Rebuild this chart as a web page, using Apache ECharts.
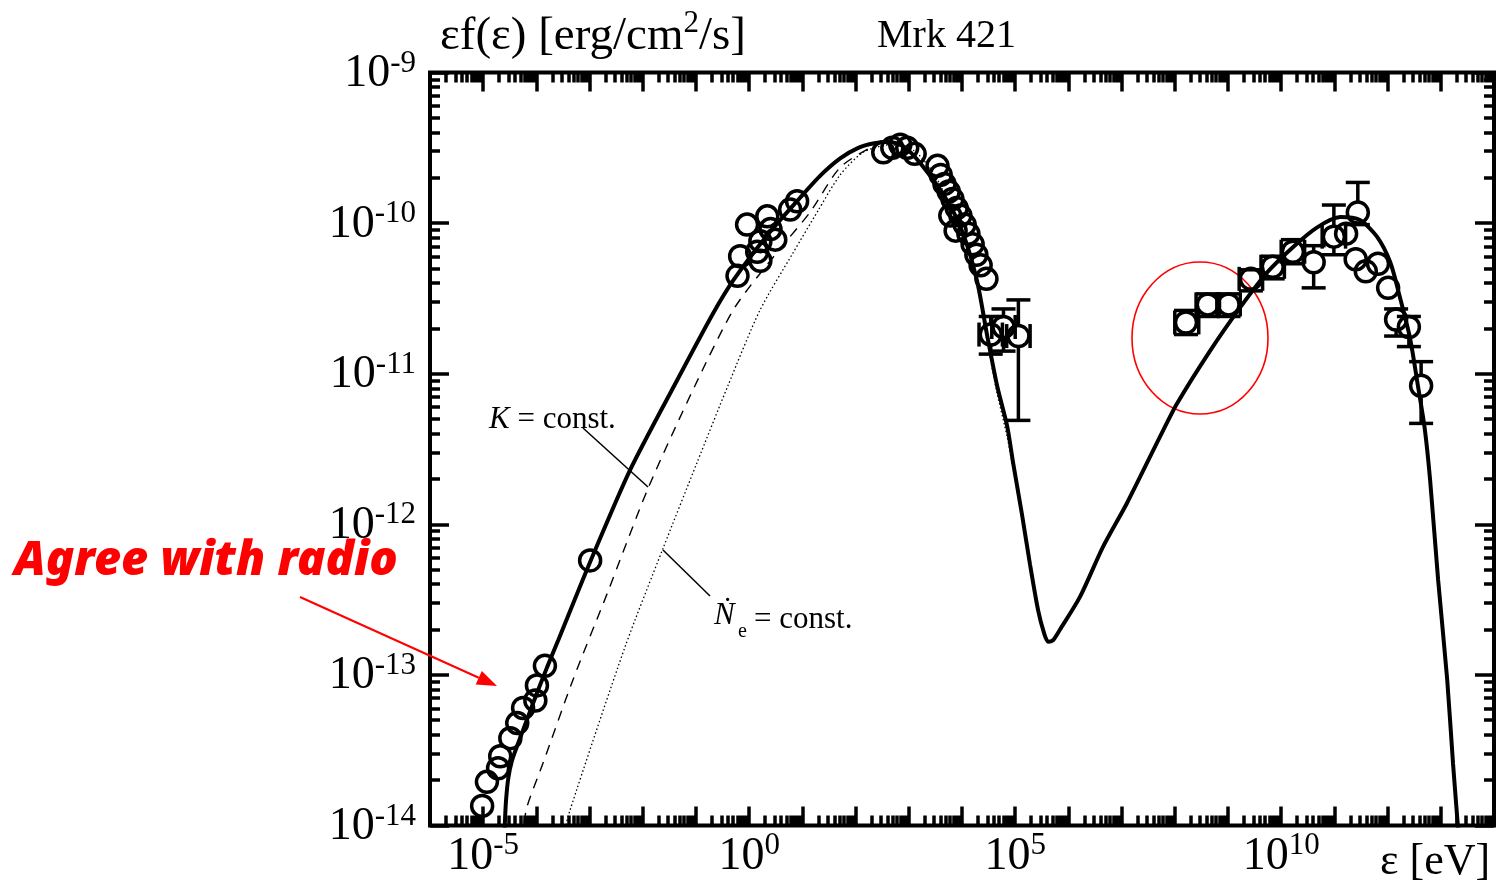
<!DOCTYPE html>
<html><head><meta charset="utf-8">
<script src="https://cdn.jsdelivr.net/npm/echarts@6/dist/echarts.min.js"></script>
<style>html,body{margin:0;padding:0;background:#fff}#c{width:1496px;height:885px}</style>
</head><body><div id="c"></div>
<script>
// All values are log10: x = log10(ε / eV), y = log10(εf(ε) / erg cm^-2 s^-1)
const xRange = [-6, 14];
const yRange = [-14, -9];
const xTickLabels = [-5, 0, 5, 10];
const yTickLabels = [-14, -13, -12, -11, -10, -9];

// model curves
const modelTotal = [
  [-4.61,-14.15],[-4.59,-13.96],[-4.57,-13.83],[-4.53,-13.69],[-4.46,-13.57],[-4.35,-13.46],
  [-4.18,-13.30],[-3.99,-13.12],[-3.80,-12.95],[-3.59,-12.77],[-2.99,-12.25],[-2.24,-11.64],
  [-1.35,-11.04],[-0.68,-10.60],[-0.30,-10.38],[0.34,-10.08],[0.96,-9.83],[1.35,-9.68],
  [1.71,-9.57],[2.05,-9.50],[2.35,-9.47],[2.62,-9.46],[2.90,-9.49],[3.21,-9.60],[3.72,-9.85],
  [4.02,-10.07],[4.28,-10.38],[4.47,-10.74],[4.66,-11.08],[4.85,-11.35],[4.96,-11.59],
  [5.13,-11.94],[5.28,-12.27],[5.43,-12.57],[5.54,-12.72],[5.62,-12.78],[5.71,-12.77],
  [5.84,-12.70],[6.22,-12.48],[6.65,-12.15],[7.10,-11.86],[7.72,-11.42],[8.04,-11.20],
  [8.66,-10.85],[9.23,-10.56],[9.73,-10.33],[10.22,-10.16],[10.67,-10.03],[11.11,-9.96],
  [11.48,-9.98],[11.80,-10.09],[12.05,-10.26],[12.23,-10.49],[12.42,-10.76],[12.57,-11.08],
  [12.70,-11.37],[12.80,-11.71],[12.95,-12.37],[13.12,-13.03],[13.23,-13.59],[13.32,-14.0],[13.36,-14.2]
];
const modelKConst = [
  [-4.28,-14.1],[-4.18,-13.88],[-3.88,-13.59],[-3.31,-13.03],[-2.67,-12.46],[-1.90,-11.76],
  [-1.02,-11.08],[-0.27,-10.56],[0.58,-10.17],[1.14,-9.93],[1.71,-9.63],[2.33,-9.49],
  [2.62,-9.46],[2.90,-9.49],[3.21,-9.60],[3.72,-9.85],[4.02,-10.07],[4.28,-10.38],
  [4.47,-10.74],[4.66,-11.08],[4.85,-11.35],[4.96,-11.59]
];
const modelNeConst = [
  [-3.52,-14.1],[-3.37,-13.90],[-2.33,-12.81],[-1.62,-12.16],[-0.98,-11.59],[-0.40,-11.08],
  [0.20,-10.58],[0.82,-10.20],[1.29,-9.92],[1.71,-9.68],[2.14,-9.53],[2.65,-9.48],
  [3.10,-9.52],[3.45,-9.66],[3.72,-9.84],[4.02,-10.07],[4.28,-10.40],[4.47,-10.78],
  [4.66,-11.13],[4.85,-11.42],[4.96,-11.63]
];

// observed points
const radioPts = [
  [-3.84,-12.94],[-3.99,-13.07],[-4.02,-13.17],[-4.25,-13.22],[-4.36,-13.32],
  [-4.49,-13.42],[-4.68,-13.54],[-4.72,-13.62],[-4.93,-13.71],[-5.02,-13.87],[-2.99,-12.24]
];
const opticalPts = [
  [0.90,-9.855],[0.77,-9.91],[0.34,-9.955],[-0.04,-10.01],[0.40,-10.04],[0.21,-10.12],
  [0.49,-10.11],[-0.17,-10.22],[0.15,-10.19],[-0.22,-10.35],[0.21,-10.25]
];
const xrayPts = [
  [2.52,-9.53],[2.69,-9.50],[2.84,-9.48],[2.97,-9.50],[3.11,-9.54],[3.54,-9.62],[3.60,-9.68],
  [3.67,-9.74],[3.75,-9.79],[3.82,-9.84],[3.90,-9.90],[3.97,-9.95],[4.05,-10.01],[4.12,-10.07],
  [4.20,-10.14],[4.27,-10.21],[4.35,-10.28],[4.46,-10.37],[3.78,-9.95],[3.88,-10.05]
];
// [x, y, xLow, xHigh, yLow, yHigh]
const xrayErrPts = [
  [4.54,-10.74,4.32,4.76,-10.87,-10.62],
  [4.78,-10.69,4.56,5.00,-10.85,-10.57],
  [5.06,-10.75,4.84,5.28,-11.31,-10.51]
];
const gammaErrPts = [
  [8.21,-10.66,8.00,8.45,-10.74,-10.58],
  [8.62,-10.54,8.40,8.84,-10.62,-10.47],
  [9.01,-10.54,8.79,9.23,-10.62,-10.47],
  [9.43,-10.37,9.21,9.65,-10.45,-10.31],
  [9.84,-10.29,9.62,10.06,-10.37,-10.22],
  [10.22,-10.19,10.00,10.44,-10.27,-10.11],
  [10.61,-10.26,10.61,10.61,-10.43,-10.15],
  [10.99,-10.09,10.77,11.21,-10.21,-9.88],
  [11.22,-10.07,11.22,11.22,-10.07,-10.07],
  [11.44,-9.93,11.44,11.44,-10.01,-9.73],
  [11.40,-10.24,11.40,11.40,-10.24,-10.24],
  [11.59,-10.32,11.59,11.59,-10.32,-10.32],
  [11.82,-10.27,11.82,11.82,-10.27,-10.27],
  [12.01,-10.43,12.01,12.01,-10.43,-10.43],
  [12.16,-10.64,12.16,12.16,-10.75,-10.57],
  [12.40,-10.69,12.40,12.40,-10.82,-10.62],
  [12.63,-11.08,12.63,12.63,-11.33,-10.92]
];

const serif = "'Liberation Serif','Times New Roman',serif";
function decades(lo, hi){ const a=[]; for(let n=lo;n<=hi;n++) a.push(n); return a; }
function minors(lo, hi){ const a=[]; for(let n=lo;n<hi;n++) for(let k=2;k<=9;k++) a.push(n+Math.log10(k)); return a; }

const MAJ = 19, MIN = 10;
const labelRich = {
  b:{fontFamily:serif, fontSize:46, color:'#000', lineHeight:49, verticalAlign:'bottom'},
  s:{fontFamily:serif, fontSize:31, color:'#000', lineHeight:30, verticalAlign:'top'}
};
function mkAxis(dim, pos, ticks, len, labels){
  const ax = {
    type:'value', gridIndex:0, position:pos,
    min: dim==='x'?xRange[0]:yRange[0], max: dim==='x'?xRange[1]:yRange[1],
    axisLine:{show:false, onZero:false}, splitLine:{show:false},
    axisTick:{show:true, inside:true, length:len, customValues:ticks, lineStyle:{color:'#000', width:3.5}},
    axisLabel:{show:false}
  };
  if (labels) {
    ax.axisLabel = {show:true, customValues:labels, margin: dim==='x'?5:14,
      formatter:v=>'{b|10}{s|'+v+'}', rich:labelRich};
  }
  return ax;
}

const R = 11;
function renderErr(params, api){
  const x=api.value(0), y=api.value(1), xl=api.value(2), xh=api.value(3), yl=api.value(4), yh=api.value(5);
  const c = api.coord([x,y]);
  const pL = api.coord([xl,y])[0], pH = api.coord([xh,y])[0];
  const pB = api.coord([x,yl])[1], pT = api.coord([x,yh])[1];
  const st = {stroke:'#000', lineWidth:3.5, fill:null};
  const kids = []; const cap = 12;
  const seg=(a,b,d,e)=>kids.push({type:'line', shape:{x1:a,y1:b,x2:d,y2:e}, style:st});
  if (pB > c[1]+1){ if (pB > c[1]+R) seg(c[0],c[1]+R,c[0],pB); seg(c[0]-cap,pB,c[0]+cap,pB); }
  if (pT < c[1]-1){ if (pT < c[1]-R) seg(c[0],c[1]-R,c[0],pT); seg(c[0]-cap,pT,c[0]+cap,pT); }
  if (pH > c[0]+1){ if (pH > c[0]+R) seg(c[0]+R,c[1],pH,c[1]); seg(pH,c[1]-cap,pH,c[1]+cap); }
  if (pL < c[0]-1){ if (pL < c[0]-R) seg(c[0]-R,c[1],pL,c[1]); seg(pL,c[1]-cap,pL,c[1]+cap); }
  return {type:'group', children:kids};
}

const circleStyle = {color:'rgba(255,255,255,0)', borderColor:'#000', borderWidth:3.5, opacity:1};
function scatter(data){
  return {type:'scatter', data:data.map(p=>[p[0],p[1]]), symbol:'circle', symbolSize:21,
    itemStyle:circleStyle, z:5, silent:true, clip:false};
}
function curve(data, style, z){
  return {type:'line', data:data, showSymbol:false, symbol:'none', smooth:0.25,
    lineStyle:style, z:z, silent:true};
}

const chart = echarts.init(document.getElementById('c'), null, {renderer:'canvas'});
chart.setOption({
  animation:false,
  backgroundColor:'#fff',
  grid:{left:430, top:72.5, width:1064, height:753, show:true, borderColor:'#000', borderWidth:4, backgroundColor:'rgba(0,0,0,0)'},
  xAxis:[
    mkAxis('x','bottom',decades(-6,14),MAJ,xTickLabels),
    mkAxis('x','bottom',minors(-6,14),MIN,null),
    mkAxis('x','top',decades(-6,14),MAJ,null),
    mkAxis('x','top',minors(-6,14),MIN,null)
  ],
  yAxis:[
    mkAxis('y','left',decades(-14,-9),MAJ,yTickLabels),
    mkAxis('y','left',minors(-14,-9),MIN,null),
    mkAxis('y','right',decades(-14,-9),MAJ,null),
    mkAxis('y','right',minors(-14,-9),MIN,null)
  ],
  series:[
    curve(modelNeConst, {color:'#000', width:1.3, type:[1.5,2.5]}, 2),
    curve(modelKConst, {color:'#000', width:1.4, type:[10,8]}, 2),
    curve(modelTotal, {color:'#000', width:4}, 3),
    scatter(radioPts), scatter(opticalPts), scatter(xrayPts), scatter(xrayErrPts), scatter(gammaErrPts),
    {type:'custom', data:xrayErrPts, renderItem:renderErr, encode:{x:0,y:1}, z:4, silent:true},
    {type:'custom', data:gammaErrPts, renderItem:renderErr, encode:{x:0,y:1}, z:4, silent:true}
  ]
});

// annotations (pixel positions)
const ax1=300, ay1=597, ax2=497, ay2=686;
const dl=Math.hypot(ax2-ax1, ay2-ay1), ux=(ax2-ax1)/dl, uy=(ay2-ay1)/dl;
const hl=20, hw=7.5, bx=ax2-hl*ux, by=ay2-hl*uy;
chart.setOption({graphic:[
  {type:'text', left:440, top:8, style:{text:'{a|εf(ε) [erg/cm}{s|2}{a|/s]}',
    rich:{a:{fontFamily:serif, fontSize:47, fill:'#000', lineHeight:52, verticalAlign:'bottom'},
          s:{fontFamily:serif, fontSize:31, fill:'#000', lineHeight:31, verticalAlign:'top'}}}},
  {type:'text', left:877, top:16, style:{text:'Mrk 421', fontFamily:serif, fontSize:40, fill:'#000'}},
  {type:'text', left:1380, top:840, style:{text:'ε [eV]', fontFamily:serif, fontSize:44, fill:'#000'}},
  {type:'text', left:489, top:404, style:{text:'{i|K} = const.', fontFamily:serif, fontSize:31, fill:'#000',
    rich:{i:{fontFamily:serif, fontSize:31, fontStyle:'italic', fill:'#000'}}}},
  {type:'text', left:714, top:600, style:{text:'Ṅ', fontFamily:serif, fontSize:31, fontStyle:'italic', fill:'#000'}},
  {type:'text', left:738, top:622, style:{text:'e', fontFamily:serif, fontSize:20, fill:'#000'}},
  {type:'text', left:754, top:604, style:{text:'= const.', fontFamily:serif, fontSize:31, fill:'#000'}},
  {type:'line', shape:{x1:583,y1:428,x2:648,y2:487}, style:{stroke:'#000', lineWidth:1.5}},
  {type:'line', shape:{x1:663,y1:550,x2:710,y2:596}, style:{stroke:'#000', lineWidth:1.5}},
  {type:'ellipse', shape:{cx:1200, cy:338, rx:68, ry:76}, style:{stroke:'#ff0000', lineWidth:1.6, fill:null}},
  {type:'text', left:14, top:538, style:{text:'Agree with radio', fontFamily:"'Noto Sans','Open Sans',sans-serif",
    fontSize:47, fontWeight:900, fontStyle:'italic', fill:'#ff0000'}},
  {type:'line', shape:{x1:ax1,y1:ay1,x2:bx,y2:by}, style:{stroke:'#ff0000', lineWidth:2}},
  {type:'polygon', shape:{points:[[ax2,ay2],[bx-hw*uy,by+hw*ux],[bx+hw*uy,by-hw*ux]]}, style:{fill:'#ff0000'}}
]});
</script></body></html>
